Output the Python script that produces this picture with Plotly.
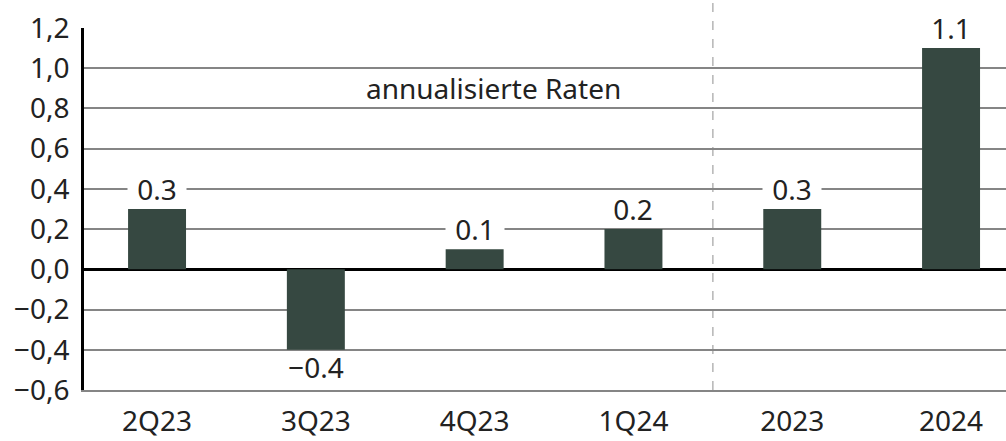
import plotly.graph_objects as go

# Growth rates by period
categories = ["2Q23", "3Q23", "4Q23", "1Q24", "2023", "2024"]
values = [0.3, -0.4, 0.1, 0.2, 0.3, 1.1]
value_labels = ["0.3", "\u22120.4", "0.1", "0.2", "0.3", "1.1"]

y_ticks = [-0.6, -0.4, -0.2, 0.0, 0.2, 0.4, 0.6, 0.8, 1.0, 1.2]
y_tick_text = ["\u22120,6", "\u22120,4", "\u22120,2", "0,0", "0,2", "0,4",
               "0,6", "0,8", "1,0", "1,2"]

note_text = "annualisierte Raten"

FONT = "Noto Sans"
FONT_SIZE = 28
BAR_COLOR = "#364841"
TEXT_COLOR = "#222222"
GRID_COLOR = "#858585"

fig = go.Figure()
fig.add_trace(go.Bar(
    x=categories,
    y=values,
    width=0.365,
    marker=dict(color=BAR_COLOR, line=dict(width=0)),
    hoverinfo="skip",
))

# value labels; positive ones sit in white boxes that interrupt the gridlines
# (category positions given by index so year names are not read as numbers)
for i, (v, txt) in enumerate(zip(values, value_labels)):
    fig.add_annotation(
        x=i, y=v, text=txt, showarrow=False,
        yanchor="middle",
        yshift=20 if v >= 0 else -17,
        bgcolor="white" if v >= 0 else "rgba(0,0,0,0)",
        width=58, height=34, borderpad=0,
        font=dict(family=FONT, size=FONT_SIZE, color=TEXT_COLOR),
    )

fig.add_annotation(
    x=2.12, y=0.9, text=note_text, showarrow=False,
    xanchor="center", yanchor="middle",
    font=dict(family=FONT, size=FONT_SIZE, color=TEXT_COLOR),
)

# separator between quarterly and annual figures
fig.add_shape(
    type="line", xref="x", yref="paper", x0=3.5, x1=3.5, y0=0, y1=1.1,
    line=dict(color="#b5b5b5", width=1.5, dash="dash"), layer="below",
)

fig.update_layout(
    width=1006, height=441,
    margin=dict(l=84, r=0, t=28, b=51),
    paper_bgcolor="white", plot_bgcolor="white",
    showlegend=False,
    font=dict(family=FONT, color=TEXT_COLOR),
)
fig.update_xaxes(
    type="category",
    range=[-0.46, 5.346],
    automargin=False,
    showgrid=False,
    showline=True, linecolor=GRID_COLOR, linewidth=1.5,
    ticks="", ticklabelstandoff=6,
    tickfont=dict(family=FONT, size=FONT_SIZE, color=TEXT_COLOR),
)
fig.update_yaxes(
    range=[-0.6, 1.2],
    automargin=False,
    tickvals=y_ticks, ticktext=y_tick_text,
    showgrid=True, gridcolor=GRID_COLOR, gridwidth=1.5,
    zeroline=True, zerolinecolor="black", zerolinewidth=2.5,
    showline=True, linecolor="black", linewidth=2.5,
    ticks="", ticklabelstandoff=6,
    tickfont=dict(family=FONT, size=FONT_SIZE, color=TEXT_COLOR),
)

fig.write_html("out.html")
